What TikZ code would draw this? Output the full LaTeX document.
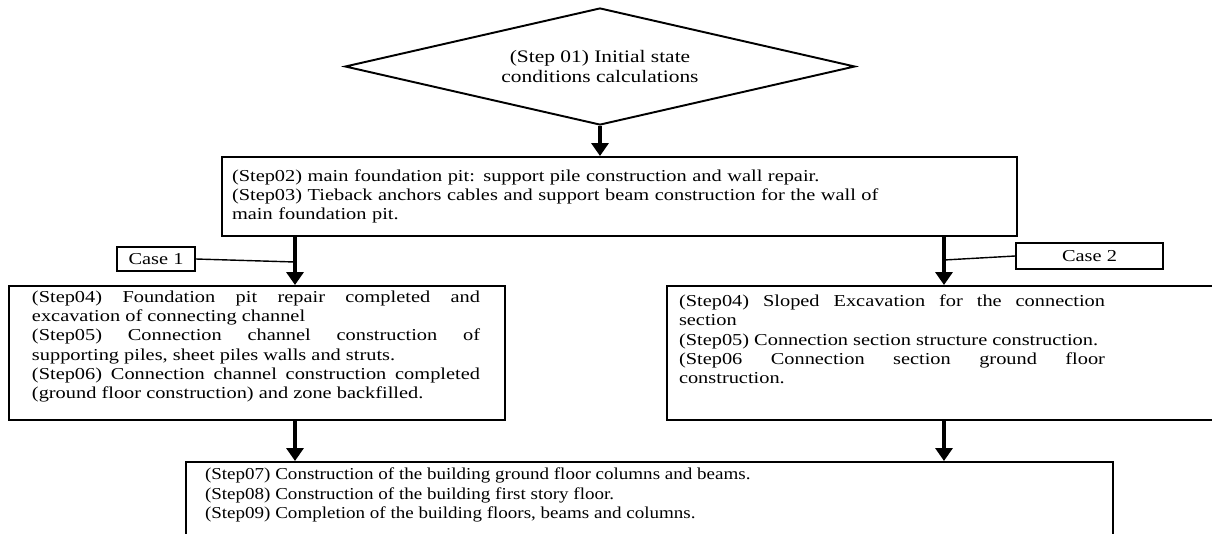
\documentclass[tikz,border=0pt]{standalone}
\usepackage{fontspec}
\setmainfont{Liberation Serif}
\newfontfamily\boxfont[FakeStretch=1.22]{Liberation Serif}
\newfontfamily\lastfont[FakeStretch=1.14]{Liberation Serif}
\usetikzlibrary{shapes.geometric,arrows.meta,positioning}

\begin{document}
\begin{tikzpicture}[
    decision/.style={diamond, draw, line width=1.1pt, aspect=4.36, minimum width=10.2cm,
                 minimum height=2.34cm, inner sep=0pt, align=center,
                 font=\boxfont\fontsize{10}{11.4}\selectfont},
    stepbox/.style={rectangle, draw, line width=1.1pt, inner sep=0pt,
                 font=\boxfont\fontsize{9.5}{10.9}\selectfont},
    casebox/.style={rectangle, draw, line width=0.9pt, inner sep=0pt,
                 font=\boxfont\fontsize{9.5}{10.9}\selectfont},
    arr/.style={-{Triangle[length=2.6mm, width=3.4mm]}, line width=2pt},
    caseline/.style={line width=0.8pt}
]
\useasboundingbox (0,0) rectangle (24.24,-10.68);
\clip (0,0) rectangle (24.24,-10.68);

\node[decision] (step01) at (12.0,-1.33) {(Step 01) Initial state\\conditions calculations};
\node[stepbox, minimum width=15.9cm, minimum height=1.58cm, text width=15.5cm, align=left] (pit) at (12.39,-3.93)
  {(Step02) main foundation pit: support pile construction and wall repair.\\
   (Step03) Tieback anchors cables and support beam construction for the wall of\\
   main foundation pit.};

\node[casebox, minimum width=1.56cm, minimum height=0.48cm] (case1) at (3.12,-5.18) {Case 1};
\node[casebox, minimum width=2.94cm, minimum height=0.52cm] (case2) at (21.79,-5.12) {Case 2};

\node[stepbox, minimum width=9.92cm, minimum height=2.68cm] (case1box) at (5.14,-7.06)
  {\hspace*{4.6mm}\parbox[c][2.68cm][t]{8.96cm}{\vspace*{1mm}%
   (Step04) Foundation pit repair completed and\linebreak
   excavation of connecting channel\\
   (Step05) Connection channel construction of\linebreak
   supporting piles, sheet piles walls and struts.\\
   (Step06) Connection channel construction completed\linebreak
   (ground floor construction) and zone backfilled.}\hspace*{5mm}};
\node[stepbox, minimum width=10.98cm, minimum height=2.68cm] (case2box) at (18.83,-7.06)
  {\hspace*{2.4mm}\parbox[c][2.68cm][t]{8.52cm}{\vspace*{1.8mm}%
   (Step04) Sloped Excavation for the connection\linebreak
   section\\
   (Step05) Connection section structure construction.\\
   (Step06 Connection section ground floor\linebreak
   construction.}\hspace*{22.2mm}};

\node[stepbox, anchor=north, minimum width=18.54cm, minimum height=2.4cm,
      font=\lastfont\fontsize{9.5}{11}\selectfont] (final) at (12.99,-9.22)
  {\hspace*{3.8mm}\parbox[c][2.4cm][t]{17.8cm}{\vspace*{1.2mm}%
   (Step07) Construction of the building ground floor columns and beams.\\
   (Step08) Construction of the building first story floor.\\
   (Step09) Completion of the building floors, beams and columns.}\hspace*{3.6mm}};

\coordinate (lx) at ([xshift=7.6mm]case1box.north);
\coordinate (rx) at ([xshift=0.5mm]case2box.north);

\draw[arr] (step01.south) -- (step01.south |- pit.north);
\draw[arr] (pit.south -| lx) -- (lx);
\draw[arr] (pit.south -| rx) -- (rx);
\draw[arr] (case1box.south -| lx) -- (final.north -| lx);
\draw[arr] (case2box.south -| rx) -- (final.north -| rx);

\draw[caseline] (case1.east) -- ([yshift=-0.6mm]case1.east -| lx);
\draw[caseline] (case2.west) -- ([yshift=-0.8mm]case2.west -| rx);
\end{tikzpicture}
\end{document}
